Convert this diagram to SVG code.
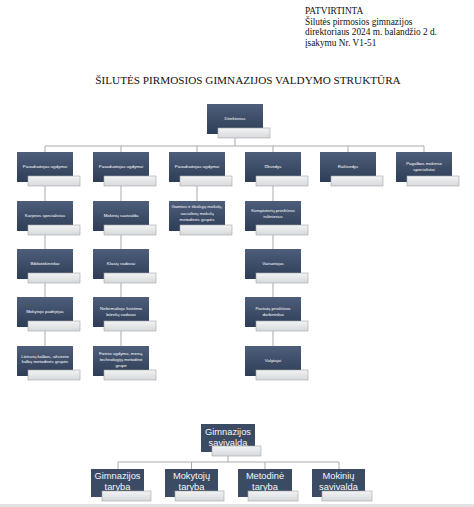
<svg xmlns="http://www.w3.org/2000/svg" width="474" height="507" viewBox="0 0 474 507">
<defs>
<linearGradient id="dg" x1="0" y1="0" x2="0" y2="1">
<stop offset="0" stop-color="#4d5e7b"/>
<stop offset="1" stop-color="#2e3d56"/>
</linearGradient>
<linearGradient id="lg" x1="0" y1="0" x2="0" y2="1">
<stop offset="0" stop-color="#f2f3f4"/>
<stop offset="1" stop-color="#d6d9dc"/>
</linearGradient>
</defs>
<style>
.hd{font-family:"Liberation Serif","Times New Roman",serif;font-size:9.3px;fill:#111}
.ti{font-family:"Liberation Serif","Times New Roman",serif;font-size:11.2px;fill:#111}
.d{fill:url(#dg)}
.db{fill:#3c4b64}
.l{fill:url(#lg);stroke:#a3a6a9;stroke-width:0.6}
.t{font-family:"Liberation Sans",Arial,sans-serif;font-size:4.4px;fill:#fff;text-anchor:middle}
.tb{font-family:"Liberation Sans",Arial,sans-serif;font-size:9.3px;fill:#f4f6f8;text-anchor:middle}
.c{stroke:#a9abad;stroke-width:1;fill:none}
</style>
<rect x="0" y="0" width="474" height="507" fill="#fff"/>
<g id="header">
<text class="hd" x="305" y="14">PATVIRTINTA</text>
<text class="hd" x="305" y="24.7">Šilutės pirmosios gimnazijos</text>
<text class="hd" x="305" y="35.4">direktoriaus 2024 m. balandžio 2 d.</text>
<text class="hd" x="305" y="46">įsakymu Nr. V1-51</text>
<text class="ti" x="248" y="84" text-anchor="middle">ŠILUTĖS PIRMOSIOS GIMNAZIJOS VALDYMO STRUKTŪRA</text>
</g>
<g id="connectors">
<path class="c" d="M235 134V146M45 146H424M45 146V346M121 146V346M197 146V201M273 146V346M348 146V152M424 146V152"/>
<path class="c" d="M228 452V462M118 462H339M118 462V469M191.5 462V469M265 462V469M339 462V469"/>
</g>
<g id="n-direktorius"><rect class="d" x="207" y="104" width="56" height="30"/><text class="t" x="235" y="119.5">Direktorius</text><rect class="l" x="218" y="128" width="52" height="10"/></g>
<g id="n-pav1"><rect class="d" x="17" y="152" width="56" height="30"/><text class="t" x="45" y="167.5">Pavaduotojas ugdymui</text><rect class="l" x="28" y="176" width="52" height="10"/></g>
<g id="n-pav2"><rect class="d" x="93" y="152" width="56" height="30"/><text class="t" x="121" y="167.5">Pavaduotojas ugdymui</text><rect class="l" x="104" y="176" width="52" height="10"/></g>
<g id="n-pav3"><rect class="d" x="169" y="152" width="56" height="30"/><text class="t" x="197" y="167.5">Pavaduotojas ugdymui</text><rect class="l" x="180" y="176" width="52" height="10"/></g>
<g id="n-ukvedys"><rect class="d" x="245" y="152" width="56" height="30"/><text class="t" x="273" y="167.5">Ūkvedys</text><rect class="l" x="256" y="176" width="52" height="10"/></g>
<g id="n-rastvedys"><rect class="d" x="320" y="152" width="56" height="30"/><text class="t" x="348" y="167.5">Raštvedys</text><rect class="l" x="331" y="176" width="52" height="10"/></g>
<g id="n-pagalbos"><rect class="d" x="396" y="152" width="56" height="30"/><text class="t" x="424" y="164.5">Pagalbos mokiniui</text><text class="t" x="424" y="170.5">specialistai</text><rect class="l" x="407" y="176" width="52" height="10"/></g>
<g id="n-karjeros"><rect class="d" x="17" y="201" width="56" height="30"/><text class="t" x="45" y="216.5">Karjeros specialistas</text><rect class="l" x="28" y="225" width="52" height="10"/></g>
<g id="n-mokiniu"><rect class="d" x="93" y="201" width="56" height="30"/><text class="t" x="121" y="216.5">Mokinių savivalda</text><rect class="l" x="104" y="225" width="52" height="10"/></g>
<g id="n-gamtos"><rect class="d" x="169" y="201" width="56" height="30"/><text class="t" x="197" y="208">Gamtos ir tiksliųjų mokslų,</text><text class="t" x="197" y="214.5">socialinių mokslų</text><text class="t" x="197" y="221">metodinės grupės</text><rect class="l" x="180" y="225" width="52" height="10"/></g>
<g id="n-kompiuteriu"><rect class="d" x="245" y="201" width="56" height="30"/><text class="t" x="273" y="211.5">Kompiuterių priežiūros</text><text class="t" x="273" y="217.5">inžinierius</text><rect class="l" x="256" y="225" width="52" height="10"/></g>
<g id="n-biblio"><rect class="d" x="17" y="249" width="56" height="30"/><text class="t" x="45" y="264.5">Bibliotekininkai</text><rect class="l" x="28" y="273" width="52" height="10"/></g>
<g id="n-klasiu"><rect class="d" x="93" y="249" width="56" height="30"/><text class="t" x="121" y="264.5">Klasių vadovai</text><rect class="l" x="104" y="273" width="52" height="10"/></g>
<g id="n-vairuotojas"><rect class="d" x="245" y="249" width="56" height="30"/><text class="t" x="273" y="264.5">Vairuotojas</text><rect class="l" x="256" y="273" width="52" height="10"/></g>
<g id="n-padejejas"><rect class="d" x="17" y="297" width="56" height="30"/><text class="t" x="45" y="312.5">Mokytojo padėjėjas</text><rect class="l" x="28" y="321" width="52" height="10"/></g>
<g id="n-neformaliojo"><rect class="d" x="93" y="297" width="56" height="30"/><text class="t" x="121" y="309.5">Neformaliojo švietimo</text><text class="t" x="121" y="315.5">būrelių vadovai</text><rect class="l" x="104" y="321" width="52" height="10"/></g>
<g id="n-pastatu"><rect class="d" x="245" y="297" width="56" height="30"/><text class="t" x="273" y="309.5">Pastatų priežiūros</text><text class="t" x="273" y="315.5">darbininkai</text><rect class="l" x="256" y="321" width="52" height="10"/></g>
<g id="n-lietuviu"><rect class="d" x="17" y="346" width="56" height="30"/><text class="t" x="45" y="357.5">Lietuvių kalbos, užsienio</text><text class="t" x="45" y="363">kalbų metodinės grupės</text><rect class="l" x="28" y="370" width="52" height="10"/></g>
<g id="n-fizinio"><rect class="d" x="93" y="346" width="56" height="30"/><text class="t" x="121" y="354.5">Fizinio ugdymo, menų,</text><text class="t" x="121" y="360.5">technologijų metodinė</text><text class="t" x="121" y="366.5">grupė</text><rect class="l" x="104" y="370" width="52" height="10"/></g>
<g id="n-valytojai"><rect class="d" x="245" y="346" width="56" height="30"/><text class="t" x="273" y="361.5">Valytojai</text><rect class="l" x="256" y="370" width="52" height="10"/></g>
<g id="n-savivalda"><rect class="db" x="201" y="424" width="54" height="28"/><text class="tb" x="228" y="435">Gimnazijos</text><text class="tb" x="228" y="446">savivalda</text><rect class="l" x="212" y="446" width="49" height="10"/></g>
<g id="n-gimtaryba"><rect class="db" x="91" y="469" width="53" height="28"/><text class="tb" x="117.5" y="479">Gimnazijos</text><text class="tb" x="117.5" y="490">taryba</text><rect class="l" x="102" y="491" width="49" height="10"/></g>
<g id="n-moktaryba"><rect class="db" x="165" y="469" width="53" height="28"/><text class="tb" x="191.5" y="479">Mokytojų</text><text class="tb" x="191.5" y="490">taryba</text><rect class="l" x="175" y="491" width="49" height="10"/></g>
<g id="n-mettaryba"><rect class="db" x="238" y="469" width="54" height="28"/><text class="tb" x="265" y="479">Metodinė</text><text class="tb" x="265" y="490">taryba</text><rect class="l" x="248" y="491" width="50" height="10"/></g>
<g id="n-mokinsav"><rect class="db" x="312" y="469" width="53" height="28"/><text class="tb" x="338.5" y="479">Mokinių</text><text class="tb" x="338.5" y="490">savivalda</text><rect class="l" x="322" y="491" width="50" height="10"/></g>
<rect x="0" y="504" width="474" height="3" fill="#e2e2e2"/>
</svg>
